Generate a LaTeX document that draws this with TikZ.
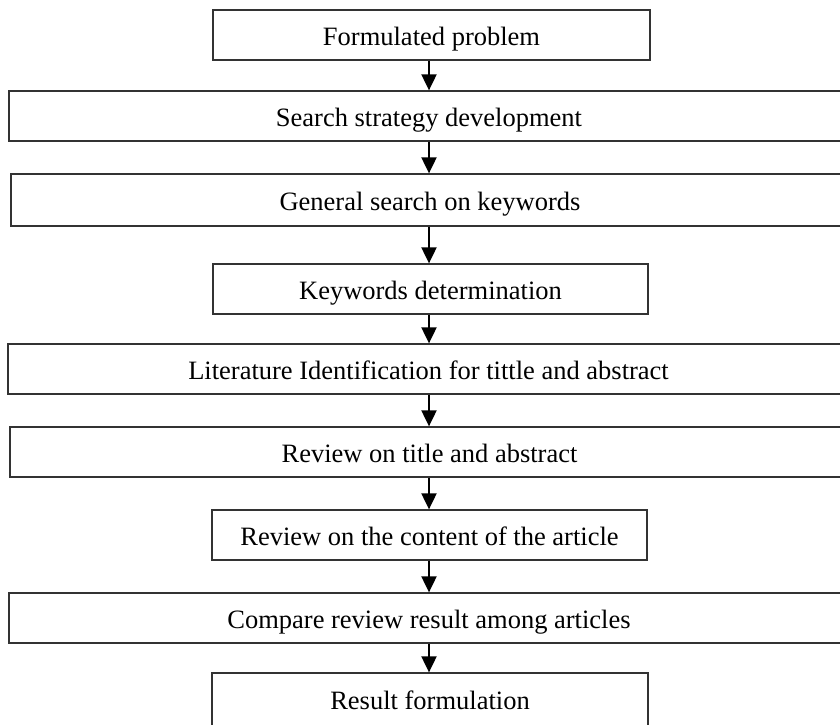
\documentclass[tikz,border=0pt]{standalone}
\usepackage{fontspec}
\setmainfont{Liberation Serif}
\usetikzlibrary{arrows.meta}
\begin{document}
\begin{tikzpicture}[x=1pt,y=-1pt,
  box/.style={draw=black!80, line width=1.3pt, inner sep=0pt, align=center,
    font=\fontsize{26.5}{30}\selectfont, text height=22pt, text depth=2pt},
  arr/.style={line width=2pt, -{Triangle[width=15pt,length=16pt]}}]
\useasboundingbox (0,0) rectangle (840,724);
\clip (0,0) rectangle (840,724);
\node[box, minimum width=437pt, minimum height=50pt] (b1) at (431.5,35) {Formulated problem};
\node[box, minimum width=840pt, minimum height=50pt] (b2) at (429,116) {Search strategy development};
\node[box, minimum width=838pt, minimum height=52pt] (b3) at (430,200) {General search on keywords};
\node[box, minimum width=435pt, minimum height=50pt] (b4) at (430.5,289) {Keywords determination};
\node[box, minimum width=841pt, minimum height=50pt] (b5) at (428.5,369) {Literature Identification for tittle and abstract};
\node[box, minimum width=839pt, minimum height=50pt] (b6) at (429.5,452) {Review on title and abstract};
\node[box, minimum width=435pt, minimum height=50pt] (b7) at (429.5,535) {Review on the content of the article};
\node[box, minimum width=840pt, minimum height=50pt] (b8) at (429,618) {Compare review result among articles};
\node[box, minimum width=436pt, minimum height=54pt, text depth=4pt] (b9) at (430,700) {Result formulation};
\coordinate (ax) at (429,0);
\draw[arr] (b1.south -| ax) -- (b2.north -| ax);
\draw[arr] (b2.south -| ax) -- (b3.north -| ax);
\draw[arr] (b3.south -| ax) -- (b4.north -| ax);
\draw[arr] (b4.south -| ax) -- (b5.north -| ax);
\draw[arr] (b5.south -| ax) -- (b6.north -| ax);
\draw[arr] (b6.south -| ax) -- (b7.north -| ax);
\draw[arr] (b7.south -| ax) -- (b8.north -| ax);
\draw[arr] (b8.south -| ax) -- (b9.north -| ax);
\end{tikzpicture}
\end{document}
